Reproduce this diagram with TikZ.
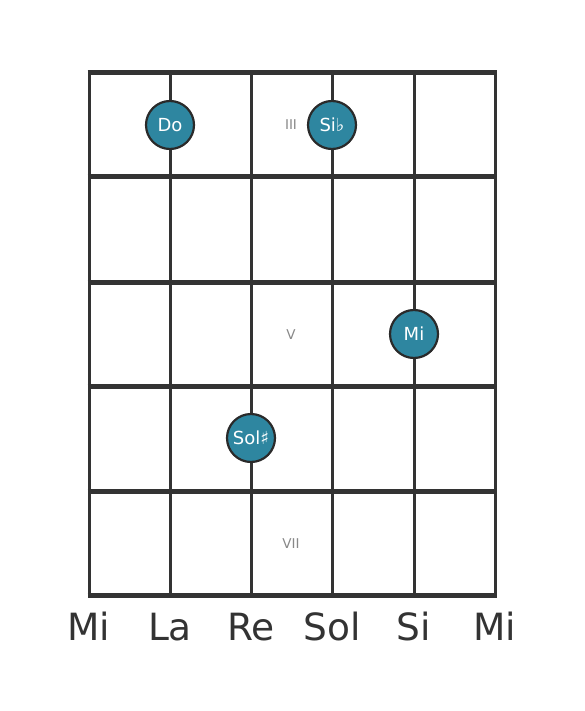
\documentclass[tikz,border=0pt]{standalone}
\usepackage{fontspec}
\setmainfont{DejaVu Sans}
\definecolor{grid}{HTML}{333333}
\definecolor{dotfill}{HTML}{2E86A0}
\definecolor{dotedge}{HTML}{2A2A2A}
\definecolor{fretlbl}{HTML}{888888}
\begin{document}
\begin{tikzpicture}[x=1pt,y=-1pt,
  fretline/.style={draw=grid,line width=5pt},
  stringline/.style={draw=grid,line width=3pt},
  notedot/.style={circle,fill=dotfill,draw=dotedge,line width=2.2pt,minimum size=48pt,inner sep=0pt,text=white,font=\fontsize{18}{18}\selectfont},
  strname/.style={text=grid,font=\fontsize{37.5}{37.5}\selectfont,anchor=base},
  fretnum/.style={text=fretlbl,font=\fontsize{13.5}{13.5}\selectfont}]
\useasboundingbox (0,0) rectangle (584,711);
% strings
\foreach \x [count=\i] in {89,170,251,332,414,495}{
  \coordinate (st\i) at (\x,73);
  \coordinate (sb\i) at (\x,595);
  \draw[stringline] (st\i) -- (sb\i);
}
% frets
\foreach \y [count=\j] in {73,177,282,386,491,595}{
  \coordinate (fl\j) at (87.5,\y);
  \coordinate (fr\j) at (496.5,\y);
  \draw[fretline] (fl\j) -- (fr\j);
}
% fret numbers
\node[fretnum] (f3) at (291,125) {III};
\node[fretnum] (f5) at (291,335) {V};
\node[fretnum] (f7) at (291,544) {VII};
% dots
\node[notedot] (do) at (170,125) {Do};
\node[notedot] (sib) at (332,125) {Si♭};
\node[notedot] (mi) at (414,334) {Mi};
\node[notedot] (sols) at (251,438) {Sol♯};
% string names
\node[strname] (n1) at (89,640) {Mi};
\node[strname] (n2) at (170,640) {La};
\node[strname] (n3) at (251,640) {Re};
\node[strname] (n4) at (332,640) {Sol};
\node[strname] (n5) at (414,640) {Si};
\node[strname] (n6) at (495,640) {Mi};
\end{tikzpicture}
\end{document}
